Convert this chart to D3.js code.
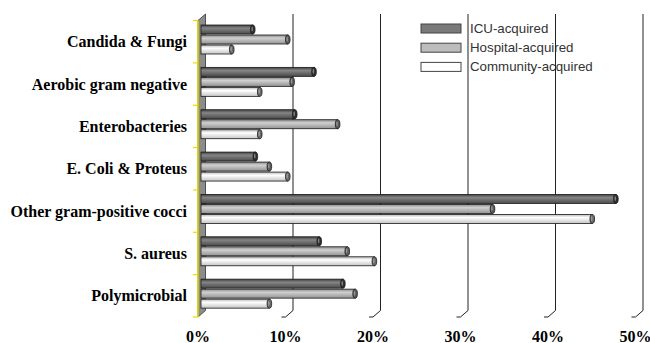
<!DOCTYPE html>
<html><head><meta charset="utf-8">
<script src="https://cdn.jsdelivr.net/npm/d3@7"></script>
<style>body{margin:0;background:#fff}svg{display:block}</style>
</head><body>
<script>
const categories = ["Candida & Fungi","Aerobic gram negative","Enterobacteries","E. Coli & Proteus","Other gram-positive cocci","S. aureus","Polymicrobial"];
const seriesNames = ["ICU-acquired","Hospital-acquired","Community-acquired"];
const icu = [5.8, 12.8, 10.6, 6.1, 47.3, 13.4, 16.1];
const hospital = [9.8, 10.3, 15.5, 7.7, 33.2, 16.6, 17.5];
const community = [3.4, 6.6, 6.6, 9.8, 44.6, 19.7, 7.7];
const tickValues = [0,10,20,30,40,50];
const tickLabels = ["0%","10%","20%","30%","40%","50%"];

const W=650,H=343;
const svg=d3.select("body").append("svg").attr("width",W).attr("height",H);
const dx=7.5, dy=6.5;
const x = d3.scaleLinear().domain([0,50]).range([198,635.5]);
const y = d3.scaleBand().domain(categories).range([20.5,317]);
const ys = d3.scaleBand().domain(seriesNames).range([0,29]).paddingInner(0.1);
const series=[icu,hospital,community];
const grads=[["#404040","#858585","#4a4a4a"],["#8a8a8a","#d0d0d0","#929292"],["#b8b8b8","#ffffff","#c4c4c4"]];
const caps=["#2e2e2e","#5a5a5a","#6a6a6a"];
const defs=svg.append("defs");
grads.forEach((g,i)=>{
  const lg=defs.append("linearGradient").attr("id","g"+i).attr("x1",0).attr("y1",0).attr("x2",0).attr("y2",1);
  lg.append("stop").attr("offset","0%").attr("stop-color",g[0]);
  lg.append("stop").attr("offset","35%").attr("stop-color",g[1]);
  lg.append("stop").attr("offset","100%").attr("stop-color",g[2]);
});
const yTop=y.range()[0], yBot=y.range()[1];
// back gridlines
tickValues.slice(1).forEach(v=>{
  const bx=x(v)+dx;
  svg.append("line").attr("x1",bx).attr("x2",bx).attr("y1",yTop-dy).attr("y2",yBot-dy).attr("stroke","#222").attr("stroke-width",1);
  svg.append("path").attr("d",`M${bx},${yBot-dy}L${x(v)},${yBot}L${x(v)-4},${yBot}`).attr("fill","none").attr("stroke","#222").attr("stroke-width",1);
});
// left wall
svg.append("path").attr("d",`M${x(0)},${yTop}L${x(0)+dx},${yTop-dy}L${x(0)+dx},${yBot-dy}L${x(0)},${yBot}Z`).attr("fill","#8c8c8c").attr("stroke","#333").attr("stroke-width",0.8);
svg.append("line").attr("x1",x(0)).attr("x2",x(0)).attr("y1",yTop).attr("y2",yBot).attr("stroke","#e6dc00").attr("stroke-width",1.5);
const bounds=categories.map(c=>y(c)).concat([yBot]);
bounds.forEach(b=>svg.append("line").attr("x1",x(0)-5).attr("x2",x(0)).attr("y1",b).attr("y2",b).attr("stroke","#e6dc00").attr("stroke-width",1.2));
// bars
const x0=x(0)+3;
categories.forEach((c,ci)=>{
  series.forEach((s,si)=>{
    const v=s[ci];
    const by=y(c)+4.5+ys(seriesNames[si]);
    const h=ys.bandwidth();
    const xe=x(v)+4;
    svg.append("rect").attr("x",x0).attr("y",by).attr("width",xe-x0).attr("height",h).attr("fill",`url(#g${si})`).attr("stroke","#1a1a1a").attr("stroke-width",0.8);
    svg.append("ellipse").attr("cx",xe).attr("cy",by+h/2).attr("rx",2.3).attr("ry",h/2).attr("fill",caps[si]).attr("stroke","#1a1a1a").attr("stroke-width",0.8);
    svg.append("ellipse").attr("cx",xe-0.6).attr("cy",by+h/2-0.5).attr("rx",0.8).attr("ry",h/2-2).attr("fill","#bbb").attr("opacity",0.6);
  });
});
// category labels
svg.selectAll("text.cat").data(categories).enter().append("text")
  .attr("x",187).attr("y",c=>y(c)+y.bandwidth()/2+5.5)
  .attr("text-anchor","end").attr("font-family","'Liberation Serif','Times New Roman',serif")
  .attr("font-weight","bold").attr("font-size",16).attr("fill","#000").text(c=>c);
// x tick labels
svg.selectAll("text.tick").data(tickValues).enter().append("text")
  .attr("x",v=>x(v)).attr("y",341.5).attr("text-anchor","middle")
  .attr("font-family","'Liberation Serif','Times New Roman',serif").attr("font-weight","bold").attr("font-size",16).attr("fill","#000")
  .text((v,i)=>tickLabels[i]);
// legend
const lfill=["#7a7a7a","#bdbdbd","#ffffff"];
seriesNames.forEach((n,i)=>{
  const ly=24+i*19.2;
  svg.append("rect").attr("x",421).attr("y",ly).attr("width",40).attr("height",9).attr("fill",lfill[i]).attr("stroke","#444").attr("stroke-width",1);
  svg.append("text").attr("x",470).attr("y",ly+8.5).attr("font-family","'Liberation Sans',Arial,sans-serif").attr("font-size",13.3).attr("fill","#333").text(n);
});
</script>
</body></html>
